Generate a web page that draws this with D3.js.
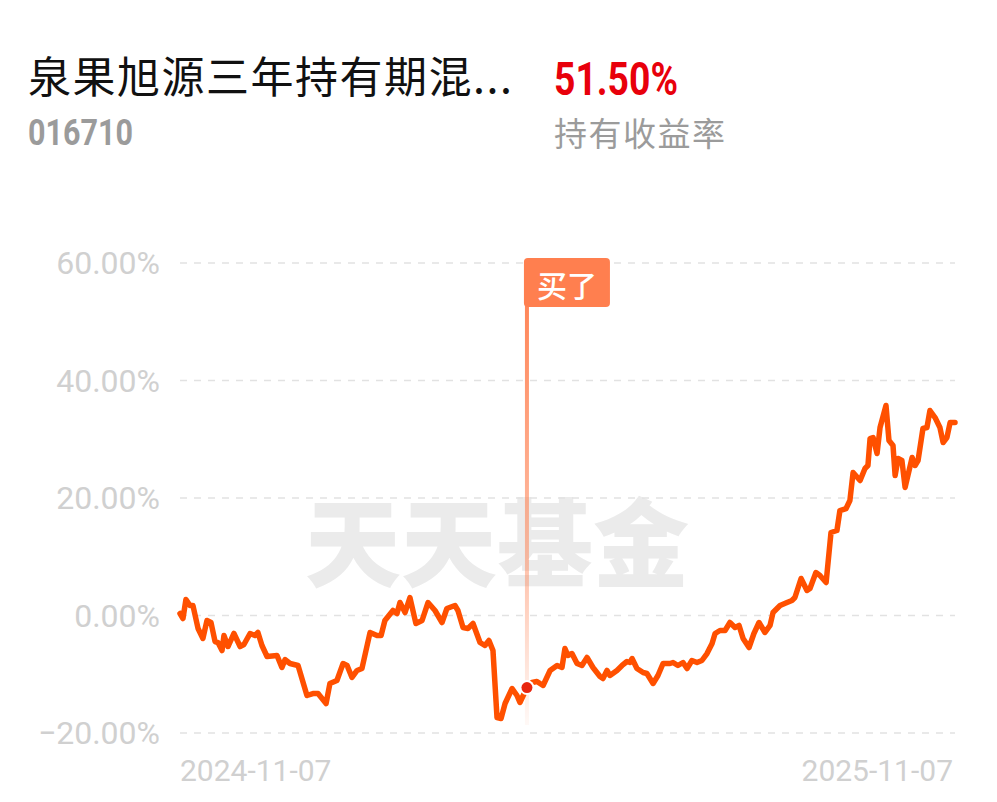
<!DOCTYPE html>
<html>
<head>
<meta charset="utf-8">
<script src="https://cdn.jsdelivr.net/npm/d3@7"></script>
<style>
  html, body { margin: 0; padding: 0; background: #ffffff; }
  svg { display: block; }
</style>
</head>
<body>
<svg id="chart" width="997" height="802"></svg>
<script>
// ---------- data ----------
const titleText = "泉果旭源三年持有期混...";
const fundCode = "016710";
const returnText = "51.50%";
const returnLabel = "持有收益率";
const watermarkText = "天天基金";
const yTicks = [-20, 0, 20, 40, 60];
const xTickLabels = ["2024-11-07", "2025-11-07"];
const xDomainDays = [0, 365];
// days since 2024-11-07
const dayOffsets = [0,1.4,2.8,4.7,6.1,8.5,10.8,12.7,14.6,16.5,17.9,19.8,20.7,22.6,25.4,28.3,30.1,33.0,35.3,36.7,38.6,41.0,45.7,48.0,49.5,51.8,55.6,59.8,62.6,65.0,68.8,70.6,73.9,76.8,78.7,81.0,83.4,85.7,89.5,92.8,94.7,96.5,100.3,102.2,103.6,106.0,108.3,111.1,114.0,116.8,120.1,123.4,125.7,129.5,130.9,133.3,135.6,138.0,141.3,143.6,145.5,147.4,149.3,151.2,153.1,156.4,158.7,160.1,163.4,165.8,168.1,171.0,174.3,177.6,179.9,181.3,182.7,184.6,187.0,189.3,191.7,194.5,197.8,199.2,201.1,202.5,205.8,208.2,210.5,211.9,212.9,215.2,218.1,219.9,222.8,225.1,227.5,230.8,232.2,234.5,236.9,238.8,241.1,243.5,245.8,248.2,250.6,252.0,254.3,256.7,259.0,261.4,263.3,265.2,268.0,270.3,272.7,275.5,277.9,279.3,282.6,285.9,288.2,289.6,292.5,295.3,296.7,299.5,301.4,304.3,306.6,309.4,310.8,313.7,315.5,317.0,320.3,322.6,324.0,325.0,326.4,328.3,329.7,332.5,333.9,335.8,336.8,338.2,340.0,341.5,344.8,346.2,347.6,349.9,351.8,353.2,355.6,357.9,359.4,361.2,362.7,365.0];
// holding return, percent
const returns = [0.34,-0.51,2.72,1.70,1.70,-2.21,-3.91,-0.85,-1.19,-4.43,-4.60,-5.96,-3.40,-5.28,-3.06,-5.28,-4.94,-3.06,-3.40,-2.89,-5.11,-6.98,-6.81,-8.85,-7.49,-8.17,-8.51,-13.62,-13.28,-13.28,-14.98,-11.57,-11.06,-8.17,-8.51,-10.55,-9.36,-9.02,-2.89,-3.40,-3.40,-0.85,0.85,0.34,2.21,0.51,3.06,-1.36,-0.85,2.21,0.85,-1.19,1.19,1.70,0.85,-2.04,-2.21,-1.36,-4.60,-5.11,-4.26,-5.96,-17.36,-17.53,-14.98,-12.43,-13.62,-14.81,-12.26,-11.40,-11.23,-11.91,-9.36,-8.51,-8.85,-5.62,-6.81,-6.47,-8.17,-8.51,-7.15,-8.85,-10.38,-10.72,-9.36,-10.21,-9.36,-8.51,-7.83,-8.00,-7.32,-9.02,-9.70,-9.87,-11.57,-10.21,-8.17,-8.17,-8.00,-8.51,-8.00,-9.02,-7.66,-8.00,-7.66,-6.47,-4.77,-3.06,-2.55,-2.55,-1.19,-2.04,-1.70,-3.91,-5.45,-3.06,-1.19,-2.89,-1.70,0.51,1.70,2.21,2.55,3.06,6.30,4.26,4.60,7.32,6.81,5.62,14.13,14.47,17.87,18.21,19.57,24.34,22.98,25.02,25.53,30.13,30.30,27.57,32.00,35.74,29.79,28.94,23.83,26.72,26.38,21.79,26.89,25.53,26.38,31.83,32.00,34.89,33.70,32.00,29.45,30.30,32.85,32.85];
const buyIndex = 68;
const buyLabel = "买了";

// ---------- layout ----------
const svg = d3.select("#chart");
const W = 997, H = 802;
const plotLeft = 180, plotRight = 955;
const x = d3.scaleLinear().domain(xDomainDays).range([plotLeft, plotRight]);
const y = d3.scaleLinear().domain([-20, 60]).range([733, 263]);

svg.append("rect").attr("width", W).attr("height", H).attr("fill", "#ffffff");

// header
svg.append("text")
  .attr("x", 28).attr("y", 93)
  .attr("font-family", "'Noto Sans CJK SC', sans-serif")
  .attr("font-size", 43).attr("letter-spacing", 1.5)
  .attr("fill", "#111111")
  .text(titleText);

svg.append("text")
  .attr("x", 28).attr("y", 145)
  .attr("font-family", "Roboto, sans-serif")
  .attr("font-weight", 700).attr("font-size", 36)
  .attr("textLength", 105).attr("lengthAdjust", "spacingAndGlyphs")
  .attr("fill", "#9b9b9b")
  .text(fundCode);

svg.append("text")
  .attr("x", 554).attr("y", 95)
  .attr("font-family", "Roboto, sans-serif")
  .attr("font-weight", 700).attr("font-size", 46)
  .attr("textLength", 124).attr("lengthAdjust", "spacingAndGlyphs")
  .attr("fill", "#e8000b")
  .text(returnText);

svg.append("text")
  .attr("x", 554).attr("y", 146)
  .attr("font-family", "'Noto Sans CJK SC', sans-serif")
  .attr("font-size", 33).attr("letter-spacing", 1.5)
  .attr("fill", "#9b9b9b")
  .text(returnLabel);

// watermark
svg.append("text")
  .attr("x", 497).attr("y", 537)
  .attr("text-anchor", "middle").attr("dominant-baseline", "central")
  .attr("font-family", "'Noto Sans CJK SC', sans-serif")
  .attr("font-weight", 900).attr("font-size", 96)
  .attr("fill", "#ebebeb")
  .text(watermarkText);

// grid + y labels
const grid = svg.append("g");
grid.selectAll("line").data(yTicks).enter().append("line")
  .attr("x1", plotLeft).attr("x2", plotRight)
  .attr("y1", d => y(d)).attr("y2", d => y(d))
  .attr("stroke", "#e2e2e2").attr("stroke-width", 1.5)
  .attr("stroke-dasharray", "7,7");
grid.selectAll("text").data(yTicks).enter().append("text")
  .attr("x", 160).attr("y", d => y(d))
  .attr("text-anchor", "end").attr("dominant-baseline", "central")
  .attr("font-family", "Roboto, sans-serif")
  .attr("font-size", 32).attr("fill", "#d0d0d0")
  .text(d => d3.format(".2f")(d) + "%");

// x labels
svg.append("text")
  .attr("x", x(xDomainDays[0])).attr("y", 781)
  .attr("text-anchor", "start")
  .attr("font-family", "Roboto, sans-serif")
  .attr("font-size", 30).attr("fill", "#d0d0d0")
  .text(xTickLabels[0]);
svg.append("text")
  .attr("x", x(xDomainDays[1]) - 2).attr("y", 781)
  .attr("text-anchor", "end")
  .attr("font-family", "Roboto, sans-serif")
  .attr("font-size", 30).attr("fill", "#d0d0d0")
  .text(xTickLabels[1]);

// buy marker vertical line
const defs = svg.append("defs");
const grad = defs.append("linearGradient").attr("id", "buyGrad")
  .attr("x1", 0).attr("y1", 0).attr("x2", 0).attr("y2", 1);
grad.append("stop").attr("offset", "0%").attr("stop-color", "#ff7f4f").attr("stop-opacity", 0.95);
grad.append("stop").attr("offset", "60%").attr("stop-color", "#ff7f4f").attr("stop-opacity", 0.5);
grad.append("stop").attr("offset", "100%").attr("stop-color", "#ff7f4f").attr("stop-opacity", 0.05);

const bx = x(dayOffsets[buyIndex]);
svg.append("rect")
  .attr("x", bx - 2).attr("y", 300).attr("width", 4).attr("height", 725 - 300)
  .attr("fill", "url(#buyGrad)");

// label box
const boxW = 86, boxH = 49, boxX = bx - 3, boxY = 258;
svg.append("rect")
  .attr("x", boxX).attr("y", boxY).attr("width", boxW).attr("height", boxH)
  .attr("rx", 4).attr("fill", "#ff7f4f");
svg.append("text")
  .attr("x", boxX + boxW / 2).attr("y", boxY + boxH / 2 + 1)
  .attr("text-anchor", "middle").attr("dominant-baseline", "central")
  .attr("font-family", "'Noto Sans CJK SC', sans-serif")
  .attr("font-size", 30).attr("font-weight", 500).attr("fill", "#ffffff")
  .text(buyLabel);

// line
const pts = dayOffsets.map((d, i) => [d, returns[i]]);
const line = d3.line().x(d => x(d[0])).y(d => y(d[1]));
svg.append("path")
  .datum(pts)
  .attr("d", line)
  .attr("fill", "none")
  .attr("stroke", "#ff5000")
  .attr("stroke-width", 5.5)
  .attr("stroke-linejoin", "round")
  .attr("stroke-linecap", "round");

// buy point
svg.append("circle")
  .attr("cx", bx).attr("cy", y(returns[buyIndex]))
  .attr("r", 7.5).attr("fill", "#ffffff");
svg.append("circle")
  .attr("cx", bx).attr("cy", y(returns[buyIndex]))
  .attr("r", 5.5).attr("fill", "#e8260f");
</script>
</body>
</html>
